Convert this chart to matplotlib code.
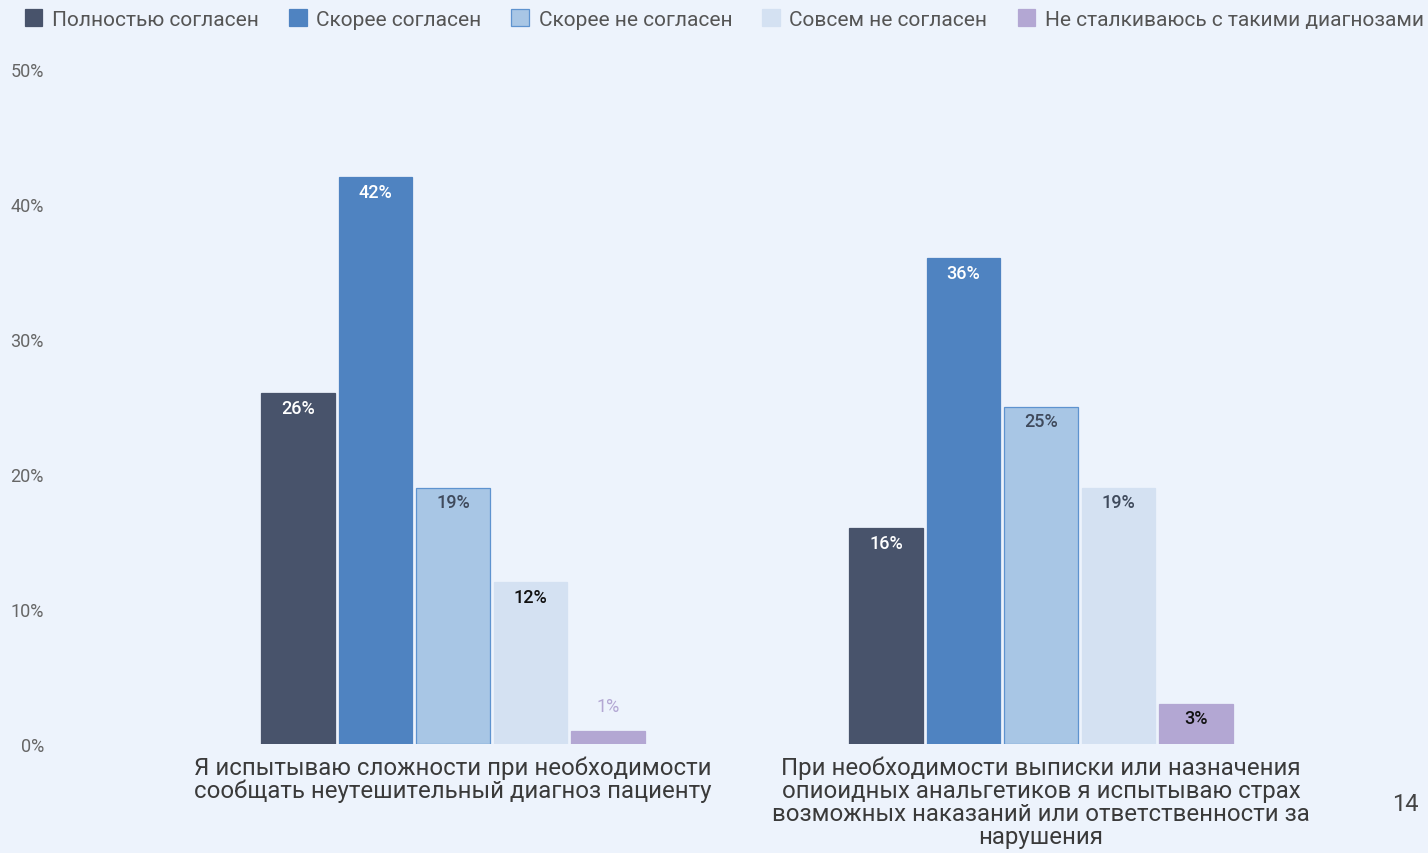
import numpy as np
import matplotlib
matplotlib.use("Agg")
import matplotlib.pyplot as plt

plt.rcParams['font.family'] = ['Roboto', 'DejaVu Sans']

categories = [
    "Я испытываю сложности при необходимости\nсообщать неутешительный диагноз пациенту",
    "При необходимости выписки или назначения\nопиоидных анальгетиков я испытываю страх\nвозможных наказаний или ответственности за\nнарушения",
]
series_names = ["Полностью согласен", "Скорее согласен", "Скорее не согласен",
                "Совсем не согласен", "Не сталкиваюсь с такими диагнозами"]
values = [
    [26, 16],
    [42, 36],
    [19, 25],
    [12, 19],
    [1, 3],
]
yticks = [0, 10, 20, 30, 40, 50]

colors = ["#48536b", "#4f83c1", "#a8c6e5", "#d4e1f2", "#b3a7d3"]
edges = ["#48536b", "#4f83c1", "#5e93cf", "#d4e1f2", "#b3a7d3"]
label_colors = [["white", "white"], ["white", "white"], ["#3f4a5c", "#3f4a5c"],
                ["#111111", "#3f4a5c"], ["#b3a7d3", "#111111"]]
bg = "#edf3fc"

fig = plt.figure(figsize=(14.28, 8.54), dpi=100, facecolor=bg)
ax = fig.add_axes([55 / 1428, 1 - 745 / 854, (1380 - 55) / 1428, 675 / 854])
ax.set_facecolor(bg)

x = np.arange(len(categories))
step = 0.1318
width = 0.1245
for i, name in enumerate(series_names):
    pos = x + (i - 2) * step
    ax.bar(pos, values[i], width, color=colors[i], edgecolor=edges[i],
           linewidth=0.9, label=name, zorder=2)
    for j, v in enumerate(values[i]):
        if v < 2:
            ax.text(pos[j], v + 1.8, f"{v}%", ha='center', va='center',
                    fontsize=13, color=label_colors[i][j])
        else:
            ax.text(pos[j], v - 1.1, f"{v}%", ha='center', va='center',
                    fontsize=13, color=label_colors[i][j], fontweight='medium')

ax.set_xlim(-(453 - 55) / 588, 1 + (1380 - 1041) / 588)
ax.set_ylim(0, 50)
ax.set_yticks(yticks)
ax.set_yticklabels([f"{t}%" for t in yticks], fontsize=13, color="#666666")
ax.set_xticks(x)
ax.set_xticklabels(categories, fontsize=17.3, color="#3a3a3a", linespacing=1.0)
ax.tick_params(axis='both', length=0)
ax.tick_params(axis='y', pad=8)
ax.tick_params(axis='x', pad=8)
for s in ax.spines.values():
    s.set_visible(False)

leg = fig.legend(loc='upper left', bbox_to_anchor=(6 / 1428, 1.01), ncol=5,
                 frameon=False, fontsize=15, handlelength=0.85, handleheight=0.85,
                 columnspacing=1.45, handletextpad=0.45)
for t in leg.get_texts():
    t.set_color("#555555")

fig.text(1405 / 1428, 1 - 805 / 854, "14", fontsize=17, color="#444444",
         ha='center', va='center')

fig.savefig("out.png", dpi=100, facecolor=bg)
